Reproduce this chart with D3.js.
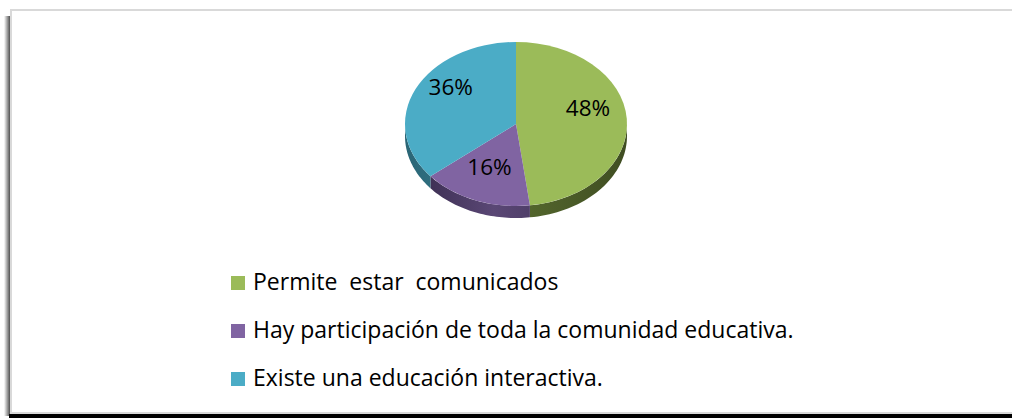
<!DOCTYPE html>
<html>
<head>
<meta charset="utf-8">
<script src="https://cdn.jsdelivr.net/npm/d3@7"></script>
<style>
body{margin:0;background:#fff;}
svg{display:block;}
</style>
</head>
<body>
<div id="chart"></div>
<script>
// data
var categories = ['Permite  estar  comunicados',
	'Hay participación de toda la comunidad educativa.',
	'Existe una educación interactiva.'];
var values = [48, 16, 36];
var labels = ['48%', '16%', '36%'];
var colors = ['#9bbb59', '#8064a2', '#4bacc6'];
var sideDark = ['#3f4d22', '#35294a', '#2a6575'];
var sideLight = ['#5a6e30', '#5a4775', '#3b8396'];

var W = 1012, H = 418;
var cx = 516, cy = 124, rx = 111, ry = 82, depth = 12;

var svg = d3.select('#chart').append('svg')
	.attr('width', W).attr('height', H);

var defs = svg.append('defs');

// frame shadow
var lg = defs.append('linearGradient').attr('id', 'shL')
	.attr('x1', 0).attr('x2', 1).attr('y1', 0).attr('y2', 0);
lg.append('stop').attr('offset', '0%').attr('stop-color', '#fff');
lg.append('stop').attr('offset', '100%').attr('stop-color', '#333');

svg.append('rect').attr('x', 4).attr('y', 16).attr('width', 7).attr('height', 400)
	.attr('fill', 'url(#shL)');
svg.append('rect').attr('x', 9).attr('y', 414).attr('width', W).attr('height', 4)
	.attr('fill', '#000');
svg.append('rect').attr('x', 11).attr('y', 10).attr('width', W + 10).attr('height', 403)
	.attr('fill', '#fff').attr('stroke', '#d9d9d9').attr('stroke-width', 2);

var pie = d3.pie().sort(null).value(function(d){return d;});
var arcs = pie(values);

function pt(a, dy){
	return [cx + rx * Math.sin(a), cy - ry * Math.cos(a) + (dy || 0)];
}

// side walls (front half only)
arcs.forEach(function(d, i){
	var a0 = Math.max(d.startAngle, Math.PI / 2),
		a1 = Math.min(d.endAngle, Math.PI * 1.5);
	if (a1 <= a0) return;
	var g = defs.append('linearGradient').attr('id', 'side' + i)
		.attr('gradientUnits', 'userSpaceOnUse')
		.attr('x1', cx - rx).attr('x2', cx + rx).attr('y1', 0).attr('y2', 0);
	g.append('stop').attr('offset', '0%').attr('stop-color', sideDark[i]);
	g.append('stop').attr('offset', '40%').attr('stop-color', sideLight[i]);
	g.append('stop').attr('offset', '100%').attr('stop-color', sideDark[i]);
	var n = 40, top = [], bot = [];
	for (var k = 0; k <= n; k++){
		var a = a0 + (a1 - a0) * k / n;
		top.push(pt(a, 0));
		bot.push(pt(a, depth));
	}
	var poly = top.concat(bot.reverse());
	svg.append('path')
		.attr('d', d3.line()(poly) + 'Z')
		.attr('fill', 'url(#side' + i + ')');
});

// top face
var arc = d3.arc().innerRadius(0).outerRadius(rx);
svg.append('g')
	.attr('transform', 'translate(' + cx + ',' + cy + ') scale(1,' + (ry / rx) + ')')
	.selectAll('path')
	.data(arcs)
	.enter()
	.append('path')
	.attr('d', arc)
	.attr('fill', function(d, i){return colors[i];});

// labels
svg.selectAll('.lbl')
	.data(arcs)
	.enter()
	.append('text').attr('class', 'lbl')
	.attr('x', function(d){
		var m = (d.startAngle + d.endAngle) / 2;
		return cx + rx * 0.65 * Math.sin(m);
	})
	.attr('y', function(d){
		var m = (d.startAngle + d.endAngle) / 2;
		return cy - ry * 0.15 - ry * 0.72 * Math.cos(m) + 8;
	})
	.attr('text-anchor', 'middle')
	.attr('font-family', '"Open Sans", sans-serif')
	.attr('font-size', 22.5)
	.attr('fill', '#000')
	.text(function(d, i){return labels[i];});

// legend
var leg = svg.selectAll('.leg')
	.data(categories)
	.enter()
	.append('g').attr('class', 'leg')
	.attr('transform', function(d, i){return 'translate(231,' + (290 + i * 48) + ')';});

leg.append('rect')
	.attr('x', 0).attr('y', -14).attr('width', 14).attr('height', 14)
	.attr('fill', function(d, i){return colors[i];});

leg.append('text')
	.attr('x', 22).attr('y', 0)
	.attr('font-family', '"Open Sans", sans-serif')
	.attr('font-size', 23)
	.attr('fill', '#000')
	.style('white-space', 'pre')
	.text(function(d){return d;});
</script>
</body>
</html>
